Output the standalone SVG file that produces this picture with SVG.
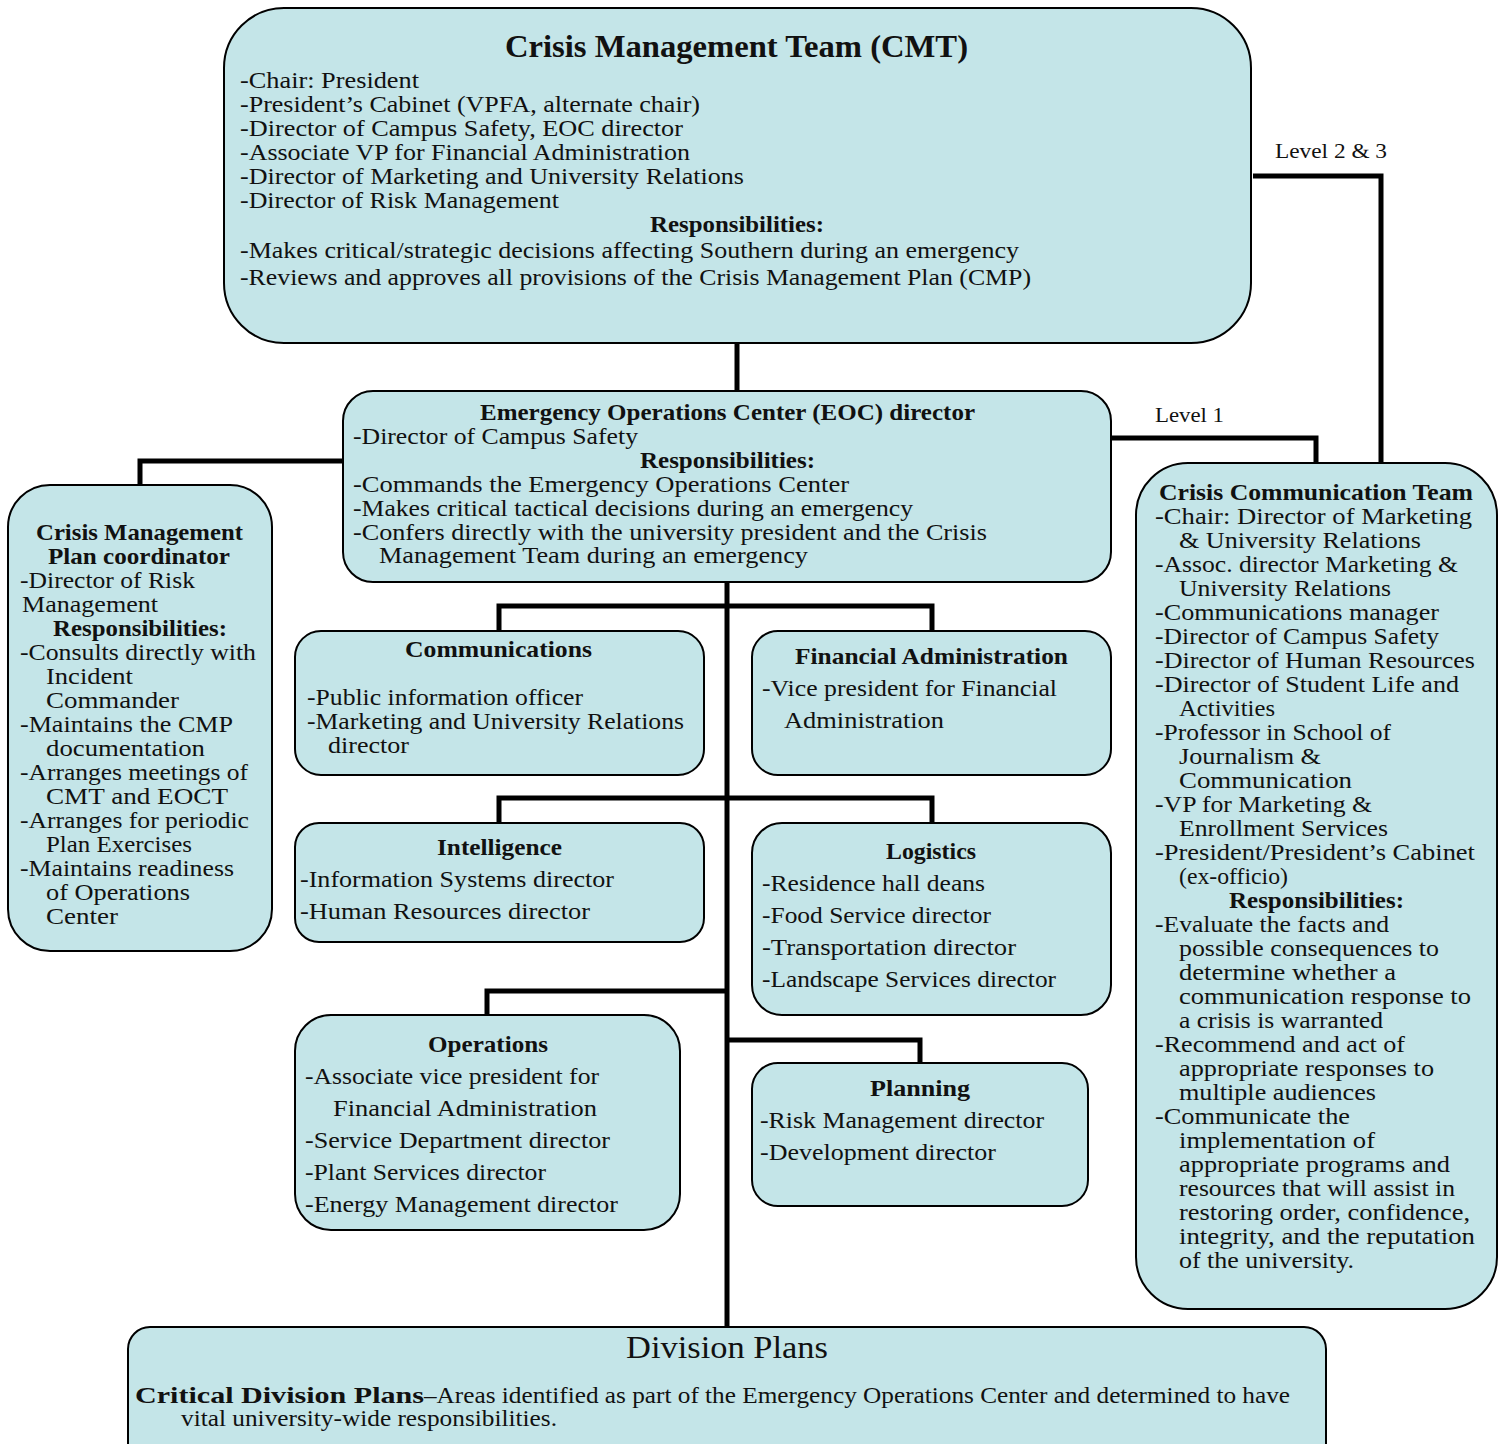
<svg xmlns="http://www.w3.org/2000/svg" width="1507" height="1444" viewBox="0 0 1507 1444">
<style>
.box{fill:#c4e5e8;stroke:#000;stroke-width:2}
.con{fill:none;stroke:#000;stroke-width:5}
text{font-family:"Liberation Serif","Times New Roman",serif;fill:#111;font-size:23px}
.b{font-weight:bold}
.lv{font-size:21px}
.big{font-size:31px}
</style>
<rect width="1507" height="1444" fill="#fff"/>
<g id="connectors">
<path class="con" d="M737 343V391"/>
<path class="con" d="M343 461H140V485"/>
<path class="con" d="M1111 438H1316V463"/>
<path class="con" d="M1253 176H1381V463"/>
<path class="con" d="M727 582V1327"/>
<path class="con" d="M499 631V606H932V631"/>
<path class="con" d="M499 823V798H932V823"/>
<path class="con" d="M487 1015V991H727"/>
<path class="con" d="M727 1040H920V1063"/>
<text class="lv" x="1275" y="158" textLength="112" lengthAdjust="spacingAndGlyphs">Level 2 &amp; 3</text>
<text class="lv" x="1155" y="422" textLength="69" lengthAdjust="spacingAndGlyphs">Level 1</text>
</g>
<g id="cmt">
<rect class="box" x="224" y="8" width="1027" height="335" rx="60"/>
<text class="b big" x="505" y="57" textLength="463" lengthAdjust="spacingAndGlyphs">Crisis Management Team (CMT)</text>
<text x="240" y="88" textLength="179" lengthAdjust="spacingAndGlyphs">-Chair: President</text>
<text x="240" y="112" textLength="460" lengthAdjust="spacingAndGlyphs">-President’s Cabinet (VPFA, alternate chair)</text>
<text x="240" y="136" textLength="443" lengthAdjust="spacingAndGlyphs">-Director of Campus Safety, EOC director</text>
<text x="240" y="160" textLength="450" lengthAdjust="spacingAndGlyphs">-Associate VP for Financial Administration</text>
<text x="240" y="184" textLength="504" lengthAdjust="spacingAndGlyphs">-Director of Marketing and University Relations</text>
<text x="240" y="208" textLength="319" lengthAdjust="spacingAndGlyphs">-Director of Risk Management</text>
<text class="b" x="650" y="232" textLength="174" lengthAdjust="spacingAndGlyphs">Responsibilities:</text>
<text x="240" y="258" textLength="779" lengthAdjust="spacingAndGlyphs">-Makes critical/strategic decisions affecting Southern during an emergency</text>
<text x="240" y="285" textLength="791" lengthAdjust="spacingAndGlyphs">-Reviews and approves all provisions of the Crisis Management Plan (CMP)</text>
</g>
<g id="eoc">
<rect class="box" x="343" y="391" width="768" height="191" rx="30"/>
<text class="b" x="480" y="420" textLength="495" lengthAdjust="spacingAndGlyphs">Emergency Operations Center (EOC) director</text>
<text x="353" y="444" textLength="285" lengthAdjust="spacingAndGlyphs">-Director of Campus Safety</text>
<text class="b" x="640" y="468" textLength="175" lengthAdjust="spacingAndGlyphs">Responsibilities:</text>
<text x="353" y="492" textLength="496" lengthAdjust="spacingAndGlyphs">-Commands the Emergency Operations Center</text>
<text x="353" y="516" textLength="560" lengthAdjust="spacingAndGlyphs">-Makes critical tactical decisions during an emergency</text>
<text x="353" y="540" textLength="634" lengthAdjust="spacingAndGlyphs">-Confers directly with the university president and the Crisis</text>
<text x="379" y="563" textLength="429" lengthAdjust="spacingAndGlyphs">Management Team during an emergency</text>
</g>
<g id="cmp-coordinator">
<rect class="box" x="8" y="485" width="264" height="466" rx="42"/>
<text class="b" x="36" y="540" textLength="207" lengthAdjust="spacingAndGlyphs">Crisis Management</text>
<text class="b" x="48" y="564" textLength="182" lengthAdjust="spacingAndGlyphs">Plan coordinator</text>
<text x="20" y="588" textLength="175" lengthAdjust="spacingAndGlyphs">-Director of Risk</text>
<text x="22" y="612" textLength="136" lengthAdjust="spacingAndGlyphs">Management</text>
<text class="b" x="53" y="636" textLength="174" lengthAdjust="spacingAndGlyphs">Responsibilities:</text>
<text x="20" y="660" textLength="236" lengthAdjust="spacingAndGlyphs">-Consults directly with</text>
<text x="46" y="684" textLength="87" lengthAdjust="spacingAndGlyphs">Incident</text>
<text x="46" y="708" textLength="133" lengthAdjust="spacingAndGlyphs">Commander</text>
<text x="20" y="732" textLength="213" lengthAdjust="spacingAndGlyphs">-Maintains the CMP</text>
<text x="46" y="756" textLength="159" lengthAdjust="spacingAndGlyphs">documentation</text>
<text x="20" y="780" textLength="228" lengthAdjust="spacingAndGlyphs">-Arranges meetings of</text>
<text x="46" y="804" textLength="182" lengthAdjust="spacingAndGlyphs">CMT and EOCT</text>
<text x="20" y="828" textLength="229" lengthAdjust="spacingAndGlyphs">-Arranges for periodic</text>
<text x="46" y="852" textLength="146" lengthAdjust="spacingAndGlyphs">Plan Exercises</text>
<text x="20" y="876" textLength="214" lengthAdjust="spacingAndGlyphs">-Maintains readiness</text>
<text x="46" y="900" textLength="144" lengthAdjust="spacingAndGlyphs">of Operations</text>
<text x="46" y="924" textLength="72" lengthAdjust="spacingAndGlyphs">Center</text>
</g>
<g id="communications">
<rect class="box" x="295" y="631" width="409" height="144" rx="26"/>
<text class="b" x="405" y="657" textLength="187" lengthAdjust="spacingAndGlyphs">Communications</text>
<text x="307" y="705" textLength="276" lengthAdjust="spacingAndGlyphs">-Public information officer</text>
<text x="307" y="729" textLength="377" lengthAdjust="spacingAndGlyphs">-Marketing and University Relations</text>
<text x="328" y="753" textLength="81" lengthAdjust="spacingAndGlyphs">director</text>
</g>
<g id="financial-administration">
<rect class="box" x="752" y="631" width="359" height="144" rx="26"/>
<text class="b" x="795" y="664" textLength="273" lengthAdjust="spacingAndGlyphs">Financial Administration</text>
<text x="762" y="696" textLength="295" lengthAdjust="spacingAndGlyphs">-Vice president for Financial</text>
<text x="784" y="728" textLength="160" lengthAdjust="spacingAndGlyphs">Administration</text>
</g>
<g id="intelligence">
<rect class="box" x="295" y="823" width="409" height="119" rx="24"/>
<text class="b" x="437" y="855" textLength="125" lengthAdjust="spacingAndGlyphs">Intelligence</text>
<text x="300" y="887" textLength="314" lengthAdjust="spacingAndGlyphs">-Information Systems director</text>
<text x="300" y="919" textLength="290" lengthAdjust="spacingAndGlyphs">-Human Resources director</text>
</g>
<g id="logistics">
<rect class="box" x="752" y="823" width="359" height="192" rx="30"/>
<text class="b" x="886" y="859" textLength="90" lengthAdjust="spacingAndGlyphs">Logistics</text>
<text x="762" y="891" textLength="223" lengthAdjust="spacingAndGlyphs">-Residence hall deans</text>
<text x="762" y="923" textLength="229" lengthAdjust="spacingAndGlyphs">-Food Service director</text>
<text x="762" y="955" textLength="254" lengthAdjust="spacingAndGlyphs">-Transportation director</text>
<text x="762" y="987" textLength="294" lengthAdjust="spacingAndGlyphs">-Landscape Services director</text>
</g>
<g id="operations">
<rect class="box" x="295" y="1015" width="385" height="215" rx="36"/>
<text class="b" x="428" y="1052" textLength="120" lengthAdjust="spacingAndGlyphs">Operations</text>
<text x="305" y="1084" textLength="294" lengthAdjust="spacingAndGlyphs">-Associate vice president for</text>
<text x="333" y="1116" textLength="264" lengthAdjust="spacingAndGlyphs">Financial Administration</text>
<text x="305" y="1148" textLength="305" lengthAdjust="spacingAndGlyphs">-Service Department director</text>
<text x="305" y="1180" textLength="241" lengthAdjust="spacingAndGlyphs">-Plant Services director</text>
<text x="305" y="1212" textLength="313" lengthAdjust="spacingAndGlyphs">-Energy Management director</text>
</g>
<g id="planning">
<rect class="box" x="752" y="1063" width="336" height="143" rx="26"/>
<text class="b" x="870" y="1096" textLength="100" lengthAdjust="spacingAndGlyphs">Planning</text>
<text x="760" y="1128" textLength="284" lengthAdjust="spacingAndGlyphs">-Risk Management director</text>
<text x="760" y="1160" textLength="236" lengthAdjust="spacingAndGlyphs">-Development director</text>
</g>
<g id="crisis-communication-team">
<rect class="box" x="1136" y="463" width="361" height="846" rx="52"/>
<text class="b" x="1159" y="500" textLength="314" lengthAdjust="spacingAndGlyphs">Crisis Communication Team</text>
<text x="1155" y="524" textLength="317" lengthAdjust="spacingAndGlyphs">-Chair:  Director of Marketing</text>
<text x="1179" y="548" textLength="242" lengthAdjust="spacingAndGlyphs">&amp; University Relations</text>
<text x="1155" y="572" textLength="303" lengthAdjust="spacingAndGlyphs">-Assoc. director Marketing &amp;</text>
<text x="1179" y="596" textLength="212" lengthAdjust="spacingAndGlyphs">University Relations</text>
<text x="1155" y="620" textLength="284" lengthAdjust="spacingAndGlyphs">-Communications manager</text>
<text x="1155" y="644" textLength="284" lengthAdjust="spacingAndGlyphs">-Director of Campus Safety</text>
<text x="1155" y="668" textLength="320" lengthAdjust="spacingAndGlyphs">-Director of Human Resources</text>
<text x="1155" y="692" textLength="304" lengthAdjust="spacingAndGlyphs">-Director of Student Life and</text>
<text x="1179" y="716" textLength="96" lengthAdjust="spacingAndGlyphs">Activities</text>
<text x="1155" y="740" textLength="236" lengthAdjust="spacingAndGlyphs">-Professor in School of</text>
<text x="1179" y="764" textLength="142" lengthAdjust="spacingAndGlyphs">Journalism &amp;</text>
<text x="1179" y="788" textLength="173" lengthAdjust="spacingAndGlyphs">Communication</text>
<text x="1155" y="812" textLength="217" lengthAdjust="spacingAndGlyphs">-VP for Marketing &amp;</text>
<text x="1179" y="836" textLength="209" lengthAdjust="spacingAndGlyphs">Enrollment Services</text>
<text x="1155" y="860" textLength="320" lengthAdjust="spacingAndGlyphs">-President/President’s Cabinet</text>
<text x="1179" y="884" textLength="109" lengthAdjust="spacingAndGlyphs">(ex-officio)</text>
<text class="b" x="1229" y="908" textLength="175" lengthAdjust="spacingAndGlyphs">Responsibilities:</text>
<text x="1155" y="932" textLength="234" lengthAdjust="spacingAndGlyphs">-Evaluate the facts and</text>
<text x="1179" y="956" textLength="260" lengthAdjust="spacingAndGlyphs">possible consequences to</text>
<text x="1179" y="980" textLength="217" lengthAdjust="spacingAndGlyphs">determine whether a</text>
<text x="1179" y="1004" textLength="292" lengthAdjust="spacingAndGlyphs">communication response to</text>
<text x="1179" y="1028" textLength="204" lengthAdjust="spacingAndGlyphs">a crisis is warranted</text>
<text x="1155" y="1052" textLength="250" lengthAdjust="spacingAndGlyphs">-Recommend and act of</text>
<text x="1179" y="1076" textLength="255" lengthAdjust="spacingAndGlyphs">appropriate responses to</text>
<text x="1179" y="1100" textLength="197" lengthAdjust="spacingAndGlyphs">multiple audiences</text>
<text x="1155" y="1124" textLength="195" lengthAdjust="spacingAndGlyphs">-Communicate the</text>
<text x="1179" y="1148" textLength="196" lengthAdjust="spacingAndGlyphs">implementation of</text>
<text x="1179" y="1172" textLength="271" lengthAdjust="spacingAndGlyphs">appropriate programs and</text>
<text x="1179" y="1196" textLength="276" lengthAdjust="spacingAndGlyphs">resources that will assist in</text>
<text x="1179" y="1220" textLength="291" lengthAdjust="spacingAndGlyphs">restoring order, confidence,</text>
<text x="1179" y="1244" textLength="296" lengthAdjust="spacingAndGlyphs">integrity, and the reputation</text>
<text x="1179" y="1268" textLength="175" lengthAdjust="spacingAndGlyphs">of the university.</text>
</g>
<g id="division-plans">
<rect class="box" x="128" y="1327" width="1198" height="140" rx="22"/>
<text class="big" x="626" y="1358" textLength="202" lengthAdjust="spacingAndGlyphs">Division Plans</text>
<text class="b" x="135" y="1403" textLength="289" lengthAdjust="spacingAndGlyphs">Critical Division Plans</text>
<text x="424" y="1403" textLength="866" lengthAdjust="spacingAndGlyphs">–Areas identified as part of the Emergency Operations Center and determined to have</text>
<text x="181" y="1426" textLength="376" lengthAdjust="spacingAndGlyphs">vital university-wide responsibilities.</text>
</g>
</svg>
